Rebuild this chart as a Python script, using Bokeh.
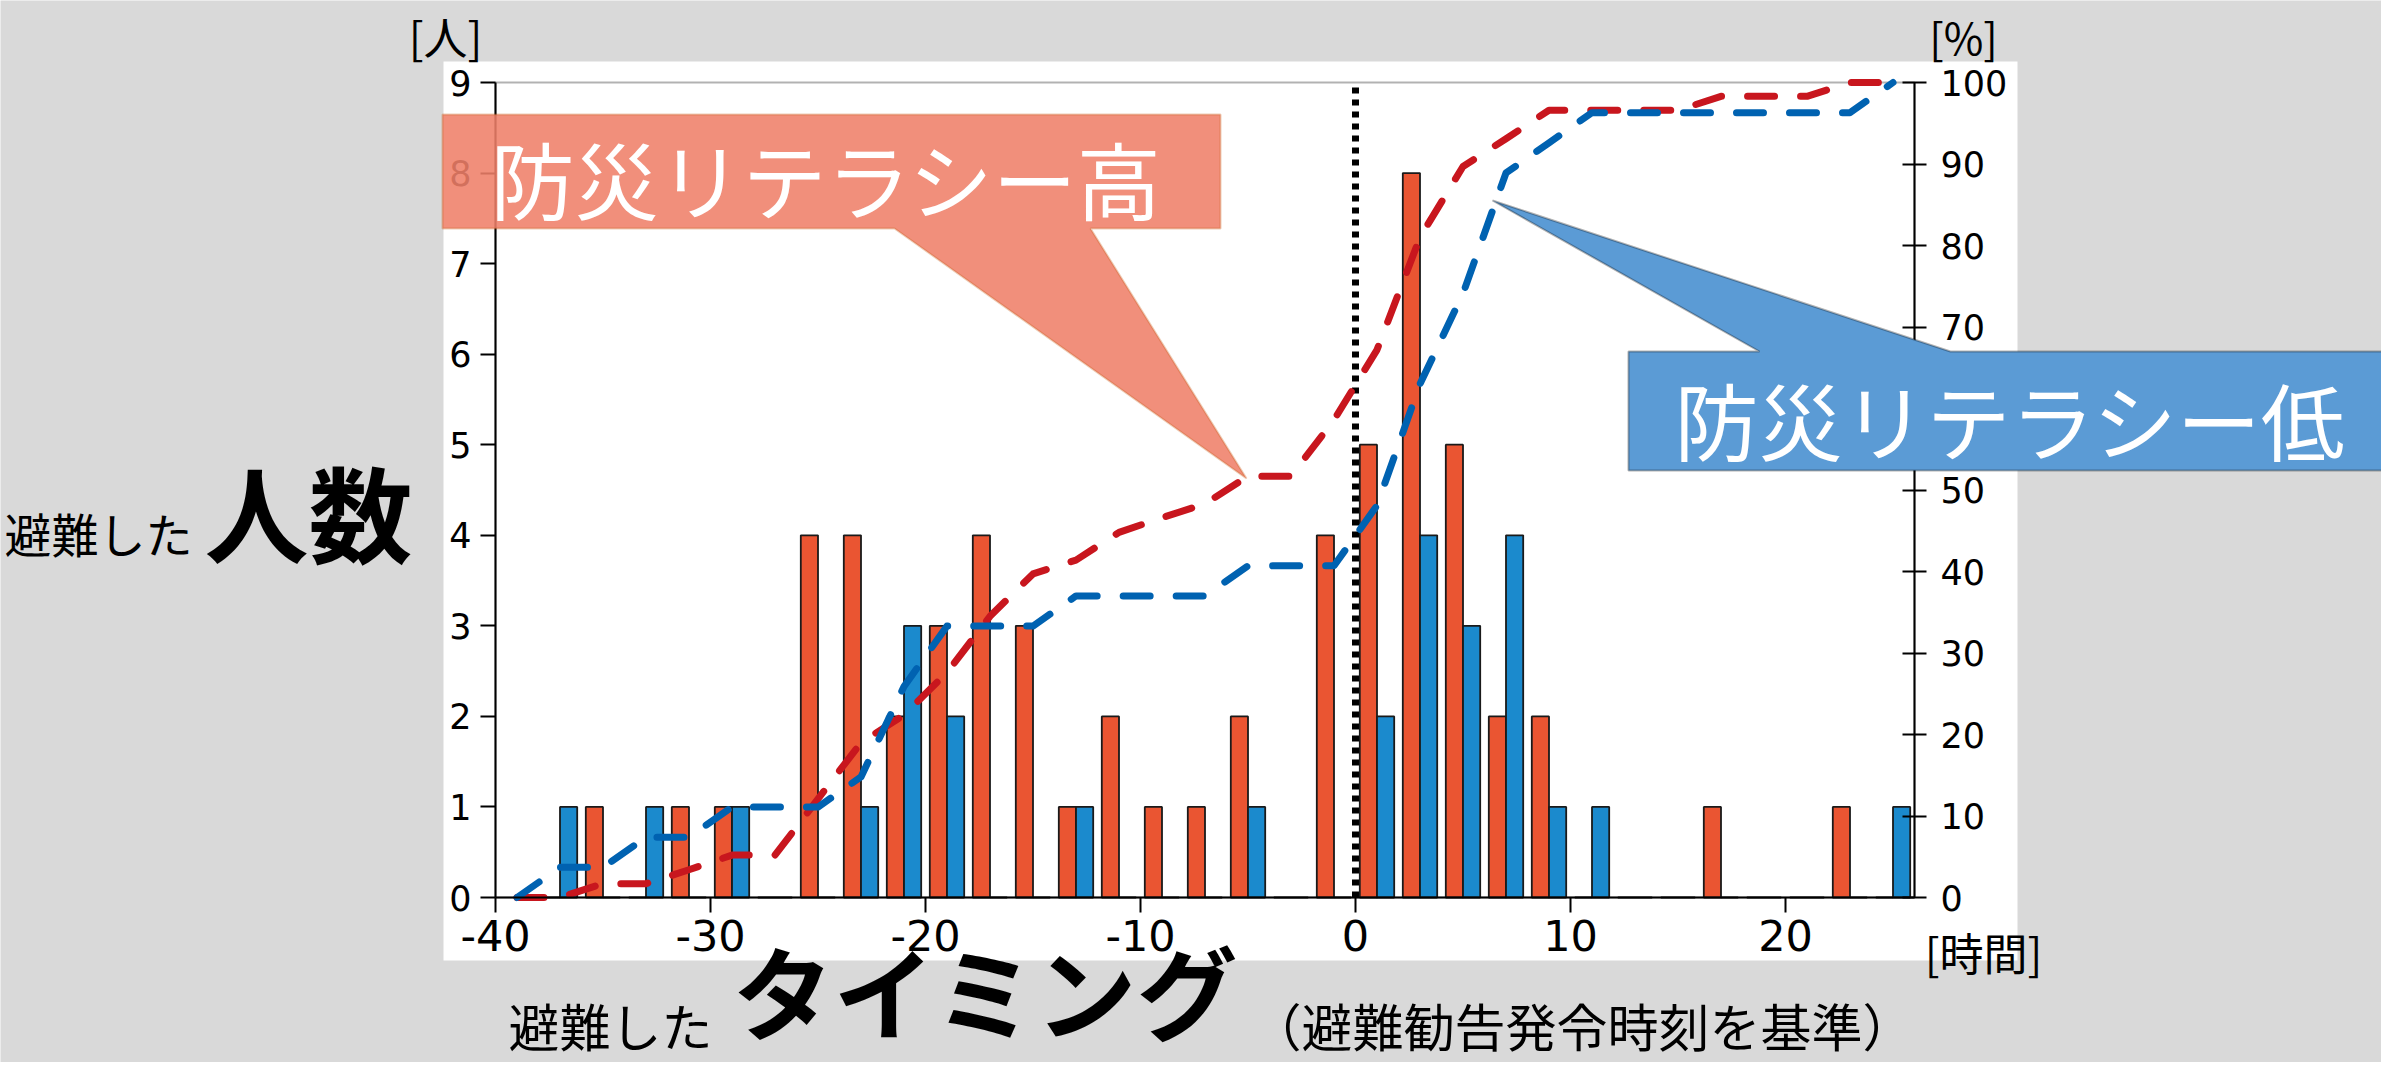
from bokeh.plotting import figure
from bokeh.models import (Range1d, LinearAxis, FixedTicker, ColumnDataSource,
                          BoxAnnotation, PolyAnnotation, Label)
from bokeh.transform import dodge
from bokeh.embed import file_html
from bokeh.resources import INLINE

# ---------------- data ----------------
categories = [-37, -35, -33, -31, -29, -27, -25, -23, -21, -19, -17, -15, -13, -11, -9, -7,
              -5, -3, -1, 1, 3, 5, 7, 9, 11, 13, 15, 17, 19, 21, 23, 25]
high_counts = [0, 1, 0, 1, 1, 0, 4, 4, 2, 3, 4, 3, 1, 2, 1, 1,
               2, 0, 4, 5, 8, 5, 2, 2, 0, 0, 0, 1, 0, 0, 1, 0]
low_counts = [1, 0, 1, 0, 1, 0, 0, 1, 3, 2, 0, 0, 1, 0, 0, 0,
              1, 0, 0, 2, 4, 3, 4, 1, 1, 0, 0, 0, 0, 0, 0, 1]

cum_x = [-39, -37, -35, -33, -31, -29, -27, -25, -23, -21, -19, -17, -15, -13, -11, -9, -7,
         -5, -3, -1, 1, 3, 5, 7, 9, 11, 13, 15, 17, 19, 21, 23, 25]
high_cum_pct = [0, 0, 1.7, 1.7, 3.4, 5.2, 5.2, 12.1, 19.0, 22.4, 27.6, 34.5, 39.7, 41.4, 44.8,
                46.6, 48.3, 51.7, 51.7, 58.6, 67.2, 81.0, 89.7, 93.1, 96.6, 96.6, 96.6, 96.6,
                98.3, 98.3, 98.3, 100, 100]
low_cum_pct = [0, 3.7, 3.7, 7.4, 7.4, 11.1, 11.1, 11.1, 14.8, 25.9, 33.3, 33.3, 33.3, 37.0, 37.0,
               37.0, 37.0, 40.7, 40.7, 40.7, 48.1, 63.0, 74.1, 88.9, 92.6, 96.3, 96.3, 96.3,
               96.3, 96.3, 96.3, 96.3, 100]

x_ticks = [-40, -30, -20, -10, 0, 10, 20]
x_tick_labels = ["-40", "-30", "-20", "-10", "0", "10", "20"]
count_ticks = [0, 1, 2, 3, 4, 5, 6, 7, 8, 9]
pct_ticks = [0, 10, 20, 30, 40, 50, 60, 70, 80, 90, 100]
x_min, x_max = -40, 26
count_max = 9
pct_max = 100
alert_hour = 0

JP = "Noto Sans CJK JP"
NUM = "DejaVu Sans"

# ---------------- layout geometry (canvas pixels) ----------------
W, H = 2381, 1062
AX_L, AX_R, AX_T, AX_B = 495, 1914, 82, 897   # data box edges, from top-left
ppx = (AX_R - AX_L) / (x_max - x_min)
ppy = (AX_B - AX_T) / count_max
ppp = (AX_B - AX_T) / pct_max
x_range = Range1d(x_min - AX_L / ppx, x_max + (W - AX_R) / ppx)
y_range = Range1d(-(H - AX_B) / ppy, count_max + AX_T / ppy)
pct_range = Range1d(-(H - AX_B) / ppp, pct_max + AX_T / ppp)

bar_src = ColumnDataSource(dict(cat=categories, high=high_counts, low=low_counts))
cum_src = ColumnDataSource(dict(x=cum_x, high=high_cum_pct, low=low_cum_pct))

p = figure(width=W, height=H, output_backend="svg", toolbar_location=None,
           x_range=x_range, y_range=y_range, x_axis_location=None, y_axis_location=None,
           min_border=0)
p.extra_y_ranges = {"pct": pct_range}
p.border_fill_color = "#D9D9D9"
p.background_fill_color = "#D9D9D9"
p.outline_line_color = None
p.xgrid.visible = False
p.ygrid.visible = False

# white panel behind plot + tick labels
p.add_layout(BoxAnnotation(left=443, right=2017, top=1001, bottom=102,
                           left_units="screen", right_units="screen",
                           top_units="screen", bottom_units="screen",
                           fill_color="white", fill_alpha=1, line_alpha=0, level="underlay"))
# frame box
p.add_layout(BoxAnnotation(left=x_min, right=x_max, bottom=0, top=count_max,
                           fill_alpha=0, line_color="black", line_width=2, level="underlay"))

# dotted reference line at the evacuation-advisory time
p.segment(x0=[alert_hour], y0=[0], x1=[alert_hour], y1=[count_max], line_color="black",
          line_width=7, line_dash="6 6")

# bars
p.vbar(x=dodge("cat", -0.4, range=p.x_range), top="high", width=0.8, source=bar_src,
       fill_color="#EA5532", line_color="#1a1a1a", line_width=1.8)
p.vbar(x=dodge("cat", 0.4, range=p.x_range), top="low", width=0.8, source=bar_src,
       fill_color="#1B8ACD", line_color="#1a1a1a", line_width=1.8)

# cumulative lines
p.line("x", "high", source=cum_src, y_range_name="pct", line_color="#C8161E",
       line_width=7, line_dash="27 26", line_cap="round", line_join="round")
p.line("x", "low", source=cum_src, y_range_name="pct", line_color="#0062B1",
       line_width=7, line_dash="27 26", line_cap="round", line_join="round")

# axes (fixed at the data box edges)
xa = LinearAxis(ticker=FixedTicker(ticks=x_ticks), fixed_location=0, bounds=(x_min, x_max))
xa.major_label_overrides = {t: s for t, s in zip(x_ticks, x_tick_labels)}
ya = LinearAxis(ticker=FixedTicker(ticks=count_ticks), fixed_location=x_min, bounds=(0, count_max))
ra = LinearAxis(y_range_name="pct", ticker=FixedTicker(ticks=pct_ticks), fixed_location=x_max,
                bounds=(0, pct_max))
p.add_layout(xa, "below")
p.add_layout(ya, "left")
p.add_layout(ra, "right")

for ax, size in ((xa, "43px"), (ya, "35px"), (ra, "35px")):
    ax.axis_line_color = "black"
    ax.axis_line_width = 2
    ax.major_tick_line_color = "black"
    ax.major_tick_line_width = 2
    ax.minor_tick_line_color = None
    ax.major_label_text_font = NUM
    ax.major_label_text_font_size = size
    ax.major_label_text_color = "black"
xa.major_tick_in = 0
xa.major_tick_out = 15
xa.major_label_standoff = 7
ya.major_tick_in = 0
ya.major_tick_out = 15
ya.major_label_standoff = 9
ra.major_tick_in = 12
ra.major_tick_out = 12
ra.major_label_standoff = 14

# callouts
p.add_layout(PolyAnnotation(xs=[442, 1220, 1220, 1090, 1246, 894, 442],
                            ys=[948, 948, 834, 834, 584, 834, 834],
                            xs_units="screen", ys_units="screen",
                            fill_color="#EF7F69", fill_alpha=0.88,
                            line_color="#C55A11", line_width=2))
p.add_layout(PolyAnnotation(xs=[1628, 1759, 1492, 1950, 2412, 2412, 1628],
                            ys=[711, 711, 862, 711, 711, 592, 592],
                            xs_units="screen", ys_units="screen",
                            fill_color="#5B9BD5", fill_alpha=1,
                            line_color="black", line_width=2))


def lab(text, sx, sy, size, align="left", bold=False, color="black"):
    p.add_layout(Label(x=sx, y=sy, x_units="screen", y_units="screen", text=text,
                       text_font=JP, text_font_size=size, text_color=color,
                       text_align=align, text_baseline="middle",
                       text_font_style="bold" if bold else "normal"))


lab("防災リテラシー高", 490, 885, "84px", color="white")
lab("防災リテラシー低", 1674, 644, "84px", color="white")

lab("避難した", 4, 530, "47px")
lab("人数", 204, 552, "104px", bold=True)
lab("避難した", 508, 38, "51px")
lab("タイミング", 732, 74, "101px", bold=True)
lab("（避難勧告発令時刻を基準）", 1250, 38, "51px")

lab("[人]", 445, 1027, "44px", align="center")
lab("[%]", 1963, 1027, "43px", align="center")
lab("[時間]", 1983, 111, "44px", align="center")

open("out.html", "w").write(file_html(p, INLINE))
